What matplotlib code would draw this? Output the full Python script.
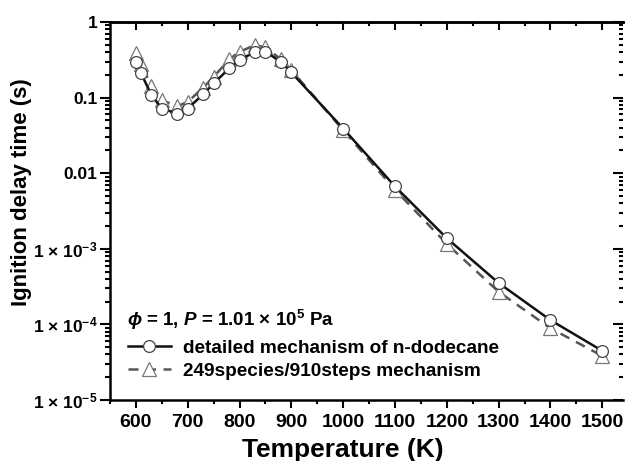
import matplotlib
matplotlib.use("Agg")
import matplotlib.pyplot as plt
from matplotlib.ticker import FixedLocator, FixedFormatter, LogLocator, MultipleLocator, NullFormatter
from matplotlib.lines import Line2D

plt.rcParams['font.family'] = ['Liberation Sans', 'DejaVu Sans']
plt.rcParams['font.weight'] = 'bold'
plt.rcParams['mathtext.fontset'] = 'custom'
plt.rcParams['mathtext.rm'] = 'Liberation Sans:bold'
plt.rcParams['mathtext.bf'] = 'Liberation Sans:bold'
plt.rcParams['mathtext.it'] = 'Liberation Sans:bold:italic'

# Data
T_detailed = [600, 610, 630, 650, 680, 700, 730, 750, 780, 800, 830, 850, 880, 900,
              1000, 1100, 1200, 1300, 1400, 1500]
tau_detailed = [0.297, 0.209, 0.108, 0.0717, 0.0615, 0.0717, 0.111, 0.154, 0.243, 0.313,
                0.404, 0.404, 0.297, 0.215, 0.039, 0.00668, 0.00138, 3.53e-4, 1.14e-4, 4.47e-5]
T_reduced = T_detailed
tau_reduced = [0.39, 0.275, 0.142, 0.0924, 0.0769, 0.0877, 0.136, 0.188, 0.32, 0.404,
               0.495, 0.462, 0.32, 0.231, 0.037, 0.00604, 0.00116, 2.7e-4, 8.9e-5, 3.83e-5]

label_detailed = 'detailed mechanism of n-dodecane'
label_reduced = '249species/910steps mechanism'
condition_text = r'$\phi$ = 1, $P$ = 1.01 × 10$^{5}$ Pa'

y_ticks = [1e-5, 1e-4, 1e-3, 1e-2, 1e-1, 1]
y_ticklabels = [r'1 × 10$^{-5}$', r'1 × 10$^{-4}$', r'1 × 10$^{-3}$',
                '0.01', '0.1', '1']

fig = plt.figure(figsize=(6.26, 4.61), dpi=100)
ax = fig.add_axes([110/626, 61/461, 513/626, 378/461])

ax.plot(T_reduced, tau_reduced, color='#555555', lw=1.8, dashes=(4, 3), marker='^',
        ms=9.5, mfc='white', mec='#777777', mew=0.9, zorder=2)
ax.plot(T_detailed, tau_detailed, color='#111111', lw=1.8, marker='o',
        ms=8.5, mfc='white', mec='#444444', mew=0.9, zorder=3)

ax.set_yscale('log')
ax.set_xlim(550, 1540)
ax.set_ylim(1e-5, 1)

ax.xaxis.set_major_locator(MultipleLocator(100))
ax.xaxis.set_minor_locator(MultipleLocator(50))
ax.yaxis.set_major_locator(FixedLocator(y_ticks))
ax.yaxis.set_major_formatter(FixedFormatter(y_ticklabels))
ax.yaxis.set_minor_locator(LogLocator(base=10, subs=range(2, 10)))
ax.yaxis.set_minor_formatter(NullFormatter())

ax.tick_params(axis='x', which='both', direction='out', top=False, labelsize=14, width=1.5)
ax.tick_params(axis='x', which='major', length=6, pad=4)
ax.tick_params(axis='x', which='minor', length=3)
ax.tick_params(axis='y', which='both', direction='out', right=False, labelsize=12.5, width=1.5)
ax.tick_params(axis='y', which='major', length=7, pad=2)
ax.tick_params(axis='y', which='minor', length=3.5)

for lab in ax.get_xticklabels() + ax.get_yticklabels():
    lab.set_fontweight('bold')

# top axis ticks inward
axt = ax.secondary_xaxis('top')
axt.xaxis.set_major_locator(MultipleLocator(100))
axt.xaxis.set_minor_locator(MultipleLocator(50))
axt.tick_params(axis='x', which='both', direction='in', labeltop=False, width=1.5)
axt.tick_params(axis='x', which='major', length=6)
axt.tick_params(axis='x', which='minor', length=3)
axt.spines['top'].set_linewidth(1.8)

# right ticks inward, no spine
axr = ax.secondary_yaxis('right')
axr.yaxis.set_major_locator(FixedLocator(y_ticks))
axr.yaxis.set_minor_locator(LogLocator(base=10, subs=range(2, 10)))
axr.yaxis.set_minor_formatter(NullFormatter())
axr.tick_params(axis='y', which='both', direction='in', labelright=False, width=1.5)
axr.tick_params(axis='y', which='major', length=7)
axr.tick_params(axis='y', which='minor', length=3)
axr.spines['right'].set_visible(False)
ax.spines['right'].set_visible(False)

for s in ['left', 'bottom', 'top']:
    ax.spines[s].set_linewidth(1.8)

ax.set_xlabel('Temperature (K)', fontsize=19, fontweight='bold')
ax.xaxis.set_label_coords(0.453, -0.10)
ax.set_ylabel('Ignition delay time (s)', fontsize=16, fontweight='bold')
ax.yaxis.set_label_coords(-0.152, 0.55)

ax.text(0.033, 0.213, condition_text, transform=ax.transAxes, fontsize=13.5, fontweight='bold',
        va='center', ha='left')

handles = [
    Line2D([], [], color='#111111', lw=1.8, marker='o', ms=8.5, mfc='white', mec='#444444', mew=0.9),
    Line2D([], [], color='#555555', lw=1.8, dashes=(4, 3), marker='^', ms=9.5, mfc='white',
           mec='#777777', mew=0.9),
]
leg = ax.legend(handles, [label_detailed, label_reduced], loc='upper left',
                bbox_to_anchor=(0.012, 0.19), frameon=False, fontsize=13.7,
                handlelength=2.3, handletextpad=0.6, labelspacing=0.3, borderaxespad=0.2)
for t in leg.get_texts():
    t.set_fontweight('bold')

fig.savefig('out.png', dpi=100)
